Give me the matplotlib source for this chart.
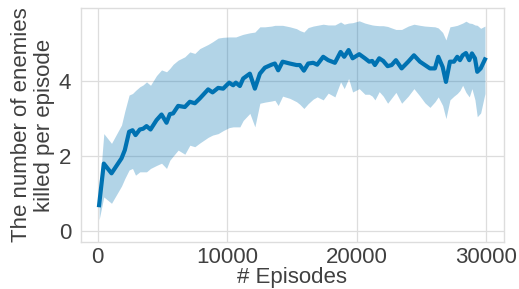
import matplotlib
matplotlib.use("Agg")
from matplotlib import pyplot as plt
import numpy as np

# episodes at which the curve was sampled
episodes = [100, 463, 1058, 1830, 2085, 2417, 2680, 2911, 3243, 3498,
            3761, 4069, 4533, 4919, 5305, 5560, 5815, 6201, 6718, 7104,
            7490, 7876, 8517, 8857, 9290, 9676, 10139, 10448, 10656, 10965,
            11220, 11737, 12124, 12510, 12896, 13413, 13668, 13923, 14263, 14826,
            15344, 15598, 15907, 16239, 16625, 16934, 17398, 17784, 18301, 18741,
            19019, 19359, 19668, 20178, 20618, 20950, 21181, 21390, 21722, 22031,
            22371, 22680, 23012, 23452, 23961, 24402, 24865, 25251, 25637, 26023,
            26278, 26618, 26873, 27181, 27490, 27745, 27954, 28162, 28417, 28672,
            28880, 29112, 29290, 29552, 29884]

mean_kills = [0.69, 1.80, 1.54, 1.94, 2.16, 2.65, 2.69, 2.56, 2.71, 2.73,
              2.80, 2.71, 2.96, 3.11, 2.89, 3.12, 3.14, 3.34, 3.31, 3.45,
              3.41, 3.54, 3.78, 3.70, 3.82, 3.80, 3.96, 3.89, 3.96, 3.87,
              4.07, 4.20, 3.80, 4.20, 4.36, 4.44, 4.47, 4.29, 4.52, 4.47,
              4.43, 4.43, 4.28, 4.47, 4.49, 4.44, 4.65, 4.56, 4.49, 4.78,
              4.65, 4.83, 4.61, 4.72, 4.61, 4.52, 4.54, 4.43, 4.61, 4.54,
              4.40, 4.43, 4.56, 4.34, 4.52, 4.69, 4.52, 4.43, 4.34, 4.34,
              4.65, 4.38, 3.98, 4.52, 4.52, 4.65, 4.56, 4.69, 4.75, 4.56,
              4.74, 4.61, 4.25, 4.34, 4.58]

upper_kills = [1.00, 2.60, 2.34, 2.83, 3.20, 3.63, 3.67, 3.75, 3.85, 3.90,
               3.98, 3.89, 4.15, 4.30, 4.25, 4.34, 4.45, 4.56, 4.65, 4.78,
               4.74, 4.87, 4.98, 5.05, 5.15, 5.17, 5.18, 5.18, 5.18, 5.22,
               5.25, 5.29, 5.31, 5.45, 5.45, 5.47, 5.49, 5.49, 5.49, 5.45,
               5.40, 5.35, 5.31, 5.43, 5.47, 5.49, 5.52, 5.50, 5.50, 5.58,
               5.52, 5.55, 5.56, 5.61, 5.55, 5.52, 5.50, 5.49, 5.48, 5.48,
               5.46, 5.42, 5.38, 5.38, 5.47, 5.52, 5.49, 5.47, 5.46, 5.45,
               5.42, 5.30, 5.10, 5.45, 5.47, 5.49, 5.52, 5.55, 5.60, 5.55,
               5.54, 5.50, 5.49, 5.41, 5.47]

lower_kills = [0.30, 0.91, 0.74, 1.20, 1.40, 1.63, 1.67, 1.49, 1.58, 1.58,
               1.58, 1.67, 1.75, 1.81, 1.67, 1.89, 2.00, 2.16, 2.05, 2.29,
               2.25, 2.35, 2.50, 2.56, 2.60, 2.68, 2.76, 2.78, 2.78, 2.78,
               2.95, 3.14, 2.78, 3.41, 3.44, 3.47, 3.49, 3.35, 3.60, 3.54,
               3.45, 3.38, 3.27, 3.40, 3.52, 3.58, 3.50, 3.68, 3.58, 3.98,
               3.80, 4.07, 3.71, 3.80, 3.65, 3.65, 3.60, 3.50, 3.72, 3.60,
               3.41, 3.55, 3.70, 3.41, 3.60, 3.80, 3.60, 3.42, 3.30, 3.45,
               3.58, 3.35, 3.00, 3.50, 3.60, 3.67, 3.75, 3.89, 3.70, 3.58,
               3.80, 3.50, 3.05, 3.15, 3.67]

x_ticks = [0, 10000, 20000, 30000]
y_ticks = [0, 2, 4]

text_color = "#404040"
line_color = "#0072B2"

plt.rcParams["font.family"] = ["Liberation Sans", "DejaVu Sans"]

fig = plt.figure(figsize=(5.19, 2.89), dpi=100)
ax = fig.add_axes([0.156, 0.163, 0.815, 0.809])

ax.fill_between(episodes, lower_kills, upper_kills, color=line_color,
                alpha=0.3, linewidth=0)
ax.plot(episodes, mean_kills, color=line_color, lw=3)

ax.set_xlim(-1300, 31350)
ax.set_ylim(-0.29, 5.95)
ax.set_xticks(x_ticks)
ax.set_yticks(y_ticks)
ax.grid(True, color="#dddddd", lw=0.9)
ax.set_axisbelow(True)
for sp in ax.spines.values():
    sp.set_color("#dddddd")
    sp.set_linewidth(1.0)

ax.tick_params(length=0, labelsize=16, labelcolor=text_color)
ax.tick_params(axis="x", pad=4)
ax.tick_params(axis="y", pad=7)
ax.set_xlabel("# Episodes", fontsize=16, color=text_color, labelpad=-1)
ax.set_ylabel("The number of enemies\nkilled per episode", fontsize=16,
              color=text_color, labelpad=3, linespacing=1.1)

fig.savefig("out.png", dpi=100)
